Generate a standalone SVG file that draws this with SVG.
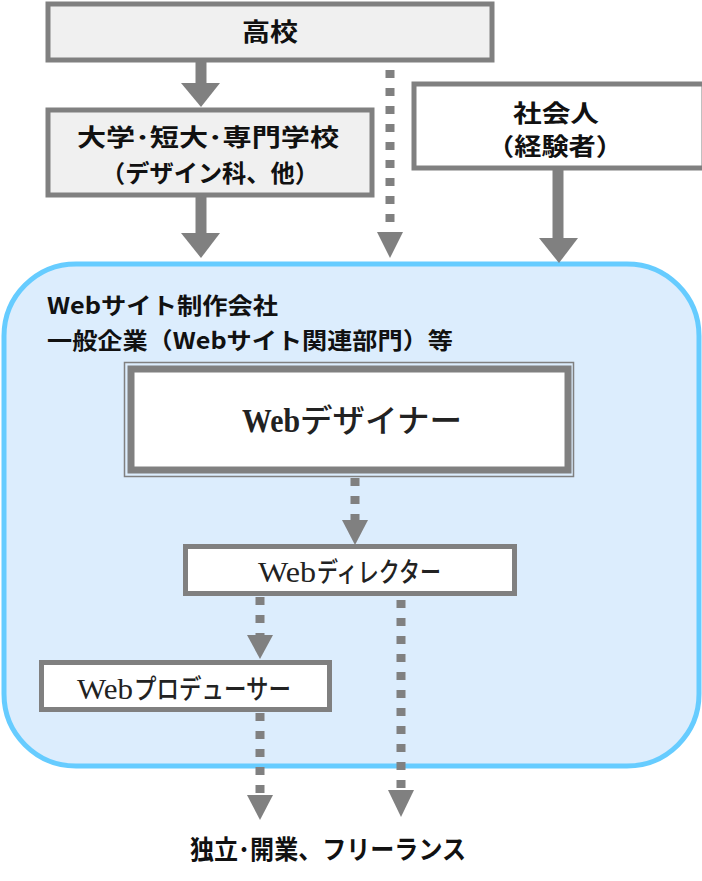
<svg xmlns="http://www.w3.org/2000/svg" width="702" height="881" viewBox="0 0 702 881">
<style>
.box{stroke:#808080;stroke-width:5}
.lbl{font-family:"Noto Sans CJK JP","Liberation Sans",sans-serif;font-weight:bold;fill:#111;text-anchor:middle}
.ser{font-family:"Liberation Serif","Noto Sans CJK JP",serif;fill:#222}
.kana{font-family:"Noto Sans CJK JP",sans-serif;font-weight:500;fill:#222}
.solid{stroke:#808080;stroke-width:11;fill:none}
.dot{stroke:#808080;stroke-width:9;stroke-dasharray:8 10;fill:none}
.head{fill:#808080}
</style>
<rect width="702" height="881" fill="#ffffff"/>
<g id="company">
<rect x="4" y="264" width="695" height="502" rx="72" ry="72" fill="#dcedfd" stroke="#66ccff" stroke-width="5"/>
<text class="lbl" x="47" y="314" font-size="23" style="text-anchor:start" textLength="231" lengthAdjust="spacingAndGlyphs">Webサイト制作会社</text>
<text class="lbl" x="47" y="349" font-size="23" style="text-anchor:start" textLength="406" lengthAdjust="spacingAndGlyphs">一般企業（Webサイト関連部門）等</text>
</g>
<g id="koukou">
<rect class="box" x="48" y="4" width="444" height="56" fill="#f0f0f0"/>
<text class="lbl" x="270" y="41" font-size="25" textLength="56" lengthAdjust="spacingAndGlyphs">高校</text>
</g>
<g id="daigaku">
<rect class="box" x="48" y="110" width="324" height="85" fill="#f0f0f0"/>
<text class="lbl" x="208" y="146" font-size="24" textLength="262" lengthAdjust="spacingAndGlyphs">大学･短大･専門学校</text>
<text class="lbl" x="210" y="182" font-size="24" textLength="218" lengthAdjust="spacingAndGlyphs">（デザイン科、他）</text>
</g>
<g id="shakaijin">
<rect class="box" x="414" y="84" width="290" height="84" fill="#ffffff"/>
<text class="lbl" x="556" y="122" font-size="24" textLength="86" lengthAdjust="spacingAndGlyphs">社会人</text>
<text class="lbl" x="555" y="155" font-size="24" textLength="136" lengthAdjust="spacingAndGlyphs">（経験者）</text>
</g>
<g id="designer">
<rect x="124.5" y="362.5" width="449" height="114" fill="none" stroke="#808080" stroke-width="1.5"/>
<rect x="131" y="369" width="437" height="101" fill="#ffffff" stroke="#808080" stroke-width="7"/>
<text class="ser" x="242" y="432" font-size="33" font-weight="bold" textLength="58" lengthAdjust="spacingAndGlyphs">Web</text>
<text class="kana" x="300" y="432" font-size="32" textLength="162" lengthAdjust="spacingAndGlyphs">デザイナー</text>
</g>
<g id="director">
<rect class="box" x="185.5" y="546.5" width="329" height="47" fill="#ffffff"/>
<text class="ser" x="258" y="582" font-size="29" textLength="58" lengthAdjust="spacingAndGlyphs">Web</text>
<text class="kana" x="317" y="582" font-size="27" textLength="124" lengthAdjust="spacingAndGlyphs">ディレクター</text>
</g>
<g id="producer">
<rect class="box" x="41.5" y="662.5" width="288" height="47" fill="#ffffff"/>
<text class="ser" x="77" y="699" font-size="29" textLength="56" lengthAdjust="spacingAndGlyphs">Web</text>
<text class="kana" x="134" y="699" font-size="27" textLength="157" lengthAdjust="spacingAndGlyphs">プロデューサー</text>
</g>
<g id="freelance">
<text class="lbl" x="328" y="859" font-size="26" textLength="276" lengthAdjust="spacingAndGlyphs">独立･開業、フリーランス</text>
</g>
<g id="connectors">
<line class="solid" x1="201" y1="62" x2="201" y2="84"/>
<polygon class="head" points="181,83 220,83 201,107"/>
<line class="solid" x1="201" y1="197" x2="201" y2="234"/>
<polygon class="head" points="181,233 220,233 201,258"/>
<line class="dot" x1="390" y1="70" x2="390" y2="232"/>
<polygon class="head" points="377,232 403,232 390,258"/>
<line class="solid" x1="558" y1="170" x2="558" y2="239"/>
<polygon class="head" points="539,238 578,238 559,263"/>
<line class="dot" x1="355" y1="478" x2="355" y2="520"/>
<polygon class="head" points="342,520 368,520 355,545"/>
<line class="dot" x1="260" y1="597" x2="260" y2="636"/>
<polygon class="head" points="247,635 273,635 260,659"/>
<line class="dot" x1="401" y1="600" x2="401" y2="790"/>
<polygon class="head" points="388,790 414,790 401,817"/>
<line class="dot" x1="260" y1="713" x2="260" y2="795"/>
<polygon class="head" points="247,795 273,795 260,820"/>
</g>
</svg>
